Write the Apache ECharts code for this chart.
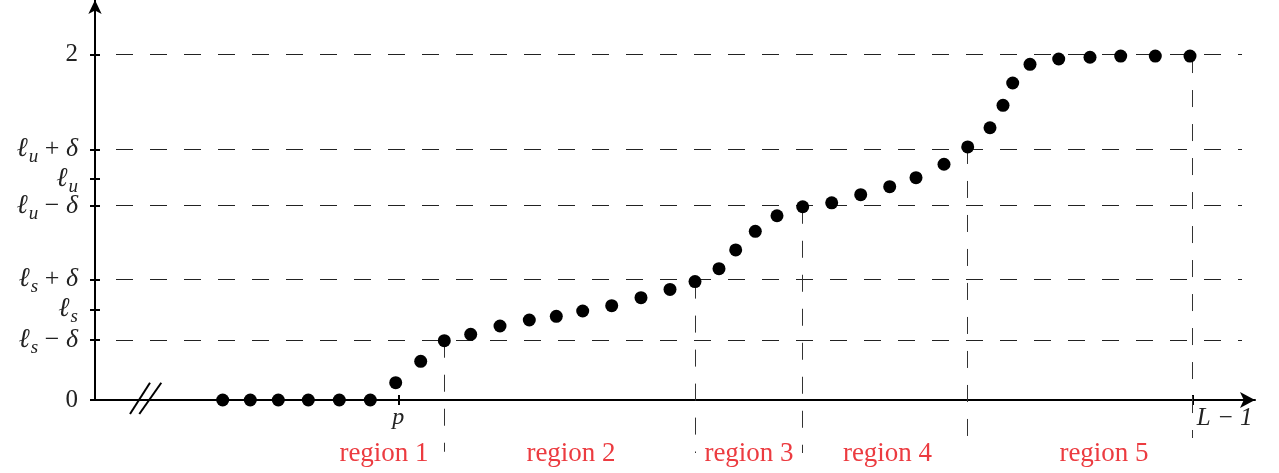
<!DOCTYPE html>
<html>
<head>
<meta charset="utf-8">
<script src="https://cdn.jsdelivr.net/npm/echarts@6/dist/echarts.min.js"></script>
<style>
html,body{margin:0;padding:0;background:#fff;}
#chart{width:1279px;height:473px;}
</style>
</head>
<body>
<div id="chart"></div>
<script>
// ---- data ----
var pointX = [12.77,15.53,18.33,21.33,24.43,27.53,30.07,32.57,34.93,37.57,40.5,43.43,46.13,48.77,51.67,54.6,57.5,60.0,62.4,64.07,66.03,68.2,70.77,73.67,76.57,79.47,82.1,84.9,87.27,89.5,90.8,91.77,93.5,96.37,99.5,102.57,106.03,109.5];
var pointY = [0,0,0,0,0,0,0.100,0.224,0.343,0.380,0.428,0.463,0.484,0.515,0.546,0.592,0.640,0.685,0.760,0.868,0.976,1.066,1.118,1.141,1.188,1.234,1.286,1.364,1.464,1.575,1.705,1.834,1.942,1.973,1.983,1.990,1.990,1.990];

var yTickValues = [0, 0.347, 0.525, 0.698, 1.124, 1.279, 1.450, 2];
var yTickLabels = ['0', 'ℓ_s − δ', 'ℓ_s', 'ℓ_s + δ', 'ℓ_u − δ', 'ℓ_u', 'ℓ_u + δ', '2'];
var xTickValues = [30.33, 109.77];
var xTickLabels = ['p', 'L − 1'];

var hLevels = [0.347, 0.698, 1.124, 1.450, 2];   // dashed horizontal guides
var hStart = 2.1, hEnd = 114.7;

var regionBounds = [34.93, 60.0, 70.77, 87.2, 109.75];
var regionTops = [0.343, 0.685, 1.118, 1.464, 1.99];
var regionBottoms = [-0.30, -0.307, -0.307, -0.307, -0.22];

var regionNames = ['region 1', 'region 2', 'region 3', 'region 4', 'region 5'];
var regionCenters = [28.9, 47.6, 65.4, 79.25, 100.9];
var regionLabelY = -0.312;

var breakMarks = [[[3.5, -0.081], [5.5, 0.100]], [[4.43, -0.081], [6.63, 0.100]]];

var yMin = 0, yMax = 2.3142, yMinFull = -0.4223, xMin = 0, xMax = 116;

// ---- build options ----
var serif = "'Liberation Serif','DejaVu Serif',serif";
function yLabelFmt(v) {
  var i = -1;
  for (var k = 0; k < yTickValues.length; k++) if (Math.abs(yTickValues[k] - v) < 1e-6) i = k;
  if (i < 0) return '';
  var t = yTickLabels[i];
  if (t.indexOf('ℓ_') < 0) return '{n|' + t + '}';
  var out = '{l|ℓ}{s|' + t.charAt(2) + '}';
  var rest = t.slice(3);
  if (rest.indexOf('−') >= 0) out += '{o| − }{d|δ}';
  else if (rest.indexOf('+') >= 0) out += '{o| + }{d|δ}';
  return out;
}
function xLabelFmt(v) {
  for (var k = 0; k < xTickValues.length; k++) {
    if (Math.abs(xTickValues[k] - v) < 1e-6) return k === 0 ? '{p|' + xTickLabels[k] + '}' : '{L|' + xTickLabels[k] + '}';
  }
  return '';
}

var scatterData = pointX.map(function (x, i) { return [x, pointY[i]]; });
var hLines = hLevels.map(function (y) { return [{coord: [hStart, y]}, {coord: [hEnd, y]}]; });
var vLines = regionBounds.map(function (x, i) { return [{coord: [x, regionTops[i]]}, {coord: [x, regionBottoms[i]]}]; });
var breakLines = breakMarks.map(function (b) { return [{coord: b[0]}, {coord: b[1]}]; });
var regionData = regionNames.map(function (n, i) { return {name: n, value: [regionCenters[i], regionLabelY]}; });

var hiddenAxis = {
  type: 'value', show: false, splitLine: {show: false},
  axisLine: {show: false, onZero: false}, axisTick: {show: false}, axisLabel: {show: false}
};

var option = {
  animation: false,
  grid: [
    {left: 95, right: 24, top: 0, bottom: 73, containLabel: false, outerBoundsMode: 'none'},
    {left: 95, right: 24, top: 0, bottom: 0, containLabel: false, outerBoundsMode: 'none'}
  ],
  xAxis: [{
    type: 'value', gridIndex: 0, min: xMin, max: xMax, position: 'bottom',
    splitLine: {show: false},
    axisLine: {show: true, onZero: false, symbol: ['none', 'arrow'], symbolSize: [12, 15], lineStyle: {color: '#000', width: 2}},
    axisTick: {show: true, customValues: xTickValues, length: 5, lineStyle: {color: '#000', width: 2}},
    axisLabel: {show: true, customValues: xTickValues, formatter: xLabelFmt, margin: 6,
      rich: {
        p: {fontFamily: serif, fontStyle: 'italic', fontSize: 24, color: '#222'},
        L: {fontFamily: serif, fontStyle: 'italic', fontSize: 25, color: '#222', padding: [0, 0, 0, 64]}
      }}
  }, {
    type: 'value', gridIndex: 0, min: xMin, max: xMax, position: 'bottom',
    splitLine: {show: false},
    axisLine: {show: false, onZero: false},
    axisTick: {show: true, inside: true, customValues: xTickValues, length: 5, lineStyle: {color: '#000', width: 2}},
    axisLabel: {show: false}
  }, Object.assign({}, hiddenAxis, {gridIndex: 1, min: xMin, max: xMax})],
  yAxis: [{
    type: 'value', gridIndex: 0, min: yMin, max: yMax, position: 'left',
    splitLine: {show: false},
    axisLine: {show: true, onZero: false, symbol: ['none', 'arrow'], symbolSize: [10, 14], lineStyle: {color: '#000', width: 2}},
    axisTick: {show: true, customValues: yTickValues, length: 5, lineStyle: {color: '#000', width: 2}},
    axisLabel: {show: true, customValues: yTickValues, formatter: yLabelFmt, margin: 17,
      rich: {
        n: {fontFamily: serif, fontSize: 25, color: '#222'},
        l: {fontFamily: serif, fontStyle: 'italic', fontSize: 27, color: '#222'},
        s: {fontFamily: serif, fontStyle: 'italic', fontSize: 19, color: '#222', padding: [16, 0, 0, 1]},
        o: {fontFamily: serif, fontSize: 26, color: '#222'},
        d: {fontFamily: serif, fontStyle: 'italic', fontSize: 26, color: '#222'}
      }}
  }, {
    type: 'value', gridIndex: 0, min: yMin, max: yMax, position: 'left',
    splitLine: {show: false},
    axisLine: {show: false, onZero: false},
    axisTick: {show: true, inside: true, customValues: yTickValues, length: 5, lineStyle: {color: '#000', width: 2}},
    axisLabel: {show: false}
  }, Object.assign({}, hiddenAxis, {gridIndex: 1, min: yMinFull, max: yMax})],
  series: [
    {
      type: 'scatter', name: 'guides-h', data: [], xAxisIndex: 0, yAxisIndex: 0,
      markLine: {silent: true, symbol: ['none', 'none'], label: {show: false},
        lineStyle: {type: [17, 17], color: '#222', width: 1}, data: hLines}
    },
    {
      type: 'scatter', name: 'guides-v', data: [], xAxisIndex: 2, yAxisIndex: 2,
      markLine: {silent: true, symbol: ['none', 'none'], label: {show: false},
        lineStyle: {type: [17, 17], color: '#333', width: 1}, data: vLines}
    },
    {
      type: 'scatter', name: 'break', data: [], xAxisIndex: 2, yAxisIndex: 2,
      markLine: {silent: true, symbol: ['none', 'none'], label: {show: false},
        lineStyle: {type: 'solid', color: '#000', width: 2}, data: breakLines}
    },
    {
      type: 'scatter', name: 'points', data: scatterData, xAxisIndex: 0, yAxisIndex: 0,
      symbolSize: 13, clip: false, itemStyle: {color: '#000', opacity: 1}, z: 5
    },
    {
      type: 'scatter', name: 'regions', data: regionData, xAxisIndex: 2, yAxisIndex: 2,
      symbolSize: 0, clip: false, itemStyle: {opacity: 1},
      label: {show: true, position: 'inside', formatter: '{b}', fontFamily: serif, fontSize: 27, color: '#ec3b40'}
    }
  ]
};
var chart = echarts.init(document.getElementById('chart'));
chart.setOption(option);
</script>
</body>
</html>
